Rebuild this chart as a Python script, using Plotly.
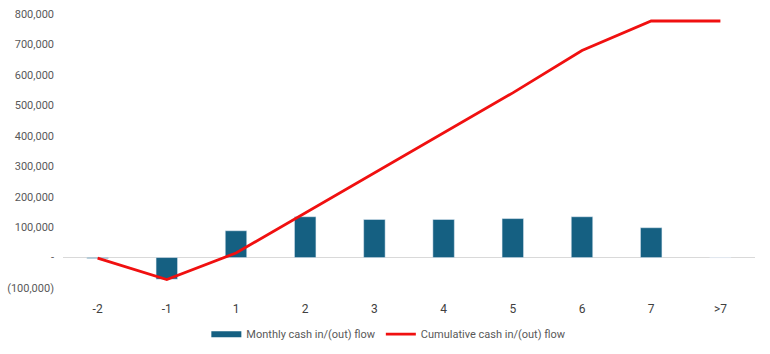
import plotly.graph_objects as go

categories = ["-2", "-1", "1", "2", "3", "4", "5", "6", "7", ">7"]
monthly_flow = [-3000, -71000, 88000, 134000, 125000, 125000, 128000, 134000, 98000, 0]
cumulative_flow = [-2000, -72000, 15000, 147000, 279000, 410000, 541000, 680000, 777000, 777000]
y_tick_vals = [-100000, 0, 100000, 200000, 300000, 400000, 500000, 600000, 700000, 800000]
y_tick_text = ["(100,000)", "-", "100,000", "200,000", "300,000", "400,000",
               "500,000", "600,000", "700,000", "800,000"]

BAR_COLOR = "#156082"
LINE_COLOR = "#F01010"
FONT = "Roboto, Arial"

fig = go.Figure()
fig.add_trace(go.Bar(x=categories, y=monthly_flow, marker_color=BAR_COLOR,
                     showlegend=False, name="Monthly cash in/(out) flow"))
fig.add_trace(go.Scatter(x=categories, y=cumulative_flow, mode="lines",
                         line=dict(color=LINE_COLOR, width=2.8),
                         showlegend=False, name="Cumulative cash in/(out) flow"))
# legend proxies
fig.add_trace(go.Scatter(x=[None], y=[None], mode="lines",
                         line=dict(color=BAR_COLOR, width=6),
                         name="Monthly cash in/(out) flow"))
fig.add_trace(go.Scatter(x=[None], y=[None], mode="lines",
                         line=dict(color=LINE_COLOR, width=2.8),
                         name="Cumulative cash in/(out) flow"))

fig.update_layout(
    width=770, height=354,
    margin=dict(l=63, r=15, t=14, b=66, autoexpand=False),
    paper_bgcolor="white", plot_bgcolor="white",
    bargap=0.69,
    font=dict(family=FONT, size=11, color="#595959"),
    legend=dict(orientation="h", xref="container", yref="container",
                x=0.505, xanchor="center", y=0.056, yanchor="middle",
                font=dict(size=11, color="#595959"), itemwidth=30,
                traceorder="normal"),
)
fig.update_xaxes(type="category", showgrid=False, showline=False, zeroline=False,
                 ticks="", ticklabelstandoff=12,
                 tickfont=dict(family=FONT, size=12, color="#404040"))
fig.update_yaxes(range=[-100000, 800000], tickvals=y_tick_vals, ticktext=y_tick_text,
                 showgrid=False, zeroline=True, zerolinecolor="#D9D9D9", zerolinewidth=1,
                 showline=False, ticks="", ticklabelstandoff=8,
                 tickfont=dict(family=FONT, size=11, color="#595959"))

fig.write_html("out.html")
